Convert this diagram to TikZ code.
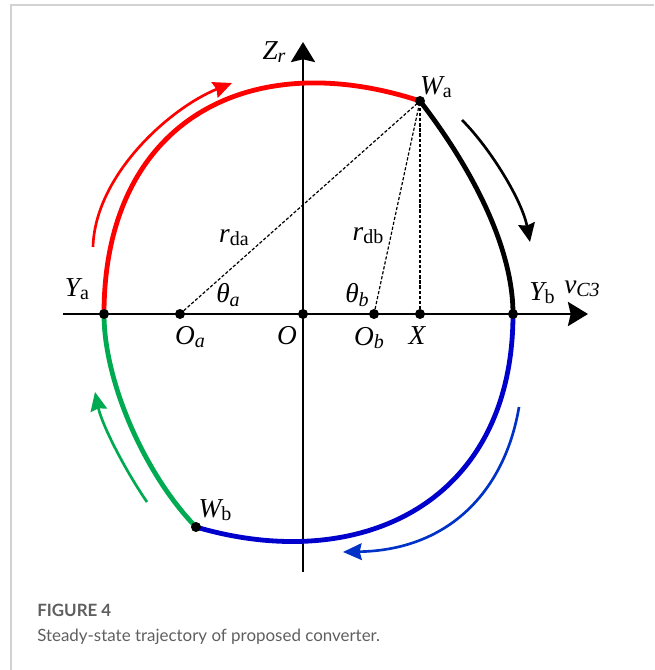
\documentclass[tikz,border=0pt]{standalone}
\usepackage{fontspec}
\setmainfont{Liberation Serif}
\newfontfamily\capfont{Lato}
\usetikzlibrary{arrows.meta}
\definecolor{trgreen}{RGB}{0,170,80}
\definecolor{trblue}{RGB}{0,0,205}
\definecolor{arblue}{RGB}{0,50,200}
\definecolor{framegray}{RGB}{210,210,210}
\definecolor{capgray}{RGB}{95,95,95}
\newcommand\mainf{\fontsize{20.5}{20.5}\selectfont}
\newcommand\subf{\fontsize{15}{15}\selectfont}
\newcommand\lblu[2]{{\mainf\itshape #1}{\subf\raisebox{-0.35ex}{#2}}}
\newcommand\lbli[2]{{\mainf\itshape #1}{\subf\itshape\raisebox{-0.35ex}{#2}}}
\begin{document}
\begin{tikzpicture}[x=0.75pt,y=-0.75pt,
  axisline/.style={line width=2.2pt,-{Stealth[length=15pt,width=18pt,inset=2pt]}},
  traj/.style={line width=3.6pt},
  flow/.style={line width=2pt,-{Stealth[length=14pt,width=12.5pt,inset=1.5pt]}},
  guide/.style={line width=0.9pt,dash pattern=on 2.4pt off 1.4pt},
  dot/.style={circle,fill=black,inner sep=0pt,minimum size=7.5pt},
  lab/.style={inner sep=0pt}]
\useasboundingbox (0,0) rectangle (654,670);
\draw[framegray,line width=1.2pt] (11,670) -- (11,5) -- (654,5);
% points
\coordinate (Ya) at (104,314);
\coordinate (Oa) at (180,314);
\coordinate (O) at (303,314);
\coordinate (Ob) at (374,314);
\coordinate (X) at (420,314);
\coordinate (Yb) at (513,314);
\coordinate (Wa) at (420,101);
\coordinate (Wb) at (196,527);
\coordinate (hs) at (63,314);
\coordinate (he) at (588,314);
\coordinate (vs) at (303,572);
\coordinate (ve) at (303,42);
% guides
\draw[guide] (Oa) -- (Wa);
\draw[guide] (Ob) -- (Wa);
\draw[guide] (X) -- (Wa);
% axes
\draw[axisline] (hs) -- (he);
\draw[axisline] (vs) -- (ve);
% trajectory
\draw[traj,red] (Ya) .. controls (104,120) and (250,45) .. (Wa);
\draw[traj,black] (Wa) .. controls (468,163) and (513,244) .. (Yb);
\draw[traj,trblue] (Yb) .. controls (513,504) and (359,575) .. (Wb);
\draw[traj,trgreen] (Wb) .. controls (147,477) and (104,384) .. (Ya);
% flow arrows
\coordinate (ra1) at (93,247);   \coordinate (ra2) at (232,83);
\coordinate (ka1) at (462,120);  \coordinate (ka2) at (530,242);
\coordinate (ga1) at (147,502);  \coordinate (ga2) at (95,392);
\coordinate (ba1) at (519,407);  \coordinate (ba2) at (343,552);
\draw[flow,red] (ra1) .. controls (95,175) and (170,108) .. (ra2);
\draw[flow,black] (ka1) .. controls (490,148) and (522,200) .. (ka2);
\draw[flow,trgreen] (ga1) .. controls (125,470) and (102,425) .. (ga2);
\draw[flow,arblue] (ba1) .. controls (505,490) and (450,550) .. (ba2);
% dots
\foreach \p in {Ya,Oa,O,Ob,X,Yb,Wa,Wb} \node[dot] at (\p) {};
% labels
\node[lab] (lZr) at (274,52) {\lbli{Z}{r}};
\node[lab] (lWa) at (436,87) {\lblu{W}{a}};
\node[lab] (lrda) at (234,238) {\lblu{r}{da}};
\node[lab] (lrdb) at (368,236) {\lblu{r}{db}};
\node[lab] (lta) at (228,295) {\lbli{θ}{a}};
\node[lab] (ltb) at (357,295) {\lbli{θ}{b}};
\node[lab] (lYa) at (77,289) {\lblu{Y}{a}};
\node[lab] (lYb) at (542,293) {\lblu{Y}{b}};
\node[lab] (lvc) at (582,289) {\lbli{v}{C3}};
\node[lab] (lOa) at (190,337) {\lbli{O}{a}};
\node[lab] (lO) at (287,336) {{\mainf\itshape O}};
\node[lab] (lOb) at (369,338) {\lbli{O}{b}};
\node[lab] (lX) at (417,336) {{\mainf\itshape X}};
\node[lab] (lWb) at (215,510) {\lblu{W}{b}};
% caption
\node[anchor=base west,inner sep=0pt,text=capgray,font=\capfont\bfseries\fontsize{12.7}{14}\selectfont] (cap1) at (37,616) {FIGURE 4};
\node[anchor=base west,inner sep=0pt,text=capgray,font=\capfont\fontsize{12.7}{14}\selectfont] (cap2) at (37,641) {Steady-state trajectory of proposed converter.};
\end{tikzpicture}
\end{document}
